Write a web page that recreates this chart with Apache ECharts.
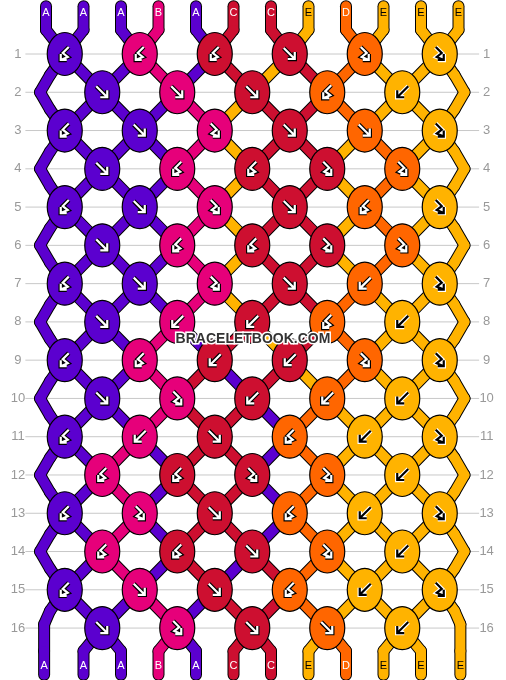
<!DOCTYPE html>
<html><head><meta charset="utf-8">
<script src="https://cdn.jsdelivr.net/npm/echarts@6/dist/echarts.min.js"></script>
<style>html,body{margin:0;padding:0;background:#fff}#c{width:506px;height:680px}</style>
</head><body><div id="c"></div>
<script>
// Strings at top (left to right)
const topStrings = ['A','A','A','B','A','C','C','E','D','E','E','E'];
const colorOf = {A:'#5b00cf', B:'#e6007a', C:'#cd0f30', D:'#ff6600', E:'#ffb300'};
// Knot types per row: F forward, B backward, f forward-backward, b backward-forward
const rowKnots = [
  'bbbFff','FFFbB','bFfFFf','Fbbff','bFfFbf','Fbbff','bFfFBf','FBBbB',
  'bbBBff','FfBBB','bBFbBf','bbffB','bfFbBf','bbFfB','bFFbBf','FfFFB'
];
const rowLabels = ['1','2','3','4','5','6','7','8','9','10','11','12','13','14','15','16'];

// ---- simulate ----
let state = topStrings.slice();
const knots = [];
const pts = [];
const nRows = rowKnots.length;
for (let r = 0; r < nRows; r++) {
  const row = r + 1, odd = (r % 2 === 0), start = odd ? 0 : 1;
  const rp = [];
  if (!odd) {
    if (r === nRows-1) {
      rp[0] = [[0.107,row-0.45],[-0.05,row-0.1]];
      rp[11] = [[10.893,row-0.45],[11.05,row-0.1]];
    } else {
      rp[0] = [[0.107, row-0.45],[-0.16,row],[0.107,row+0.45]];
      rp[11] = [[10.893,row-0.45],[11.16,row],[10.893,row+0.45]];
    }
  }
  const ns = state.slice();
  rowKnots[r].split('').forEach((t, k) => {
    const i = start + 2*k, L = state[i], R = state[i+1];
    const x = i + 0.5;
    rp[i] = [[x,row]]; rp[i+1] = [[x,row]];
    let c;
    if (t === 'F') { c = L; ns[i] = R; ns[i+1] = L; }
    else if (t === 'B') { c = R; ns[i] = R; ns[i+1] = L; }
    else if (t === 'f') { c = L; }
    else { c = R; }
    knots.push([x, row, c, t]);
  });
  pts.push({p: rp, before: state.slice(), after: ns.slice()});
  state = ns;
}
const segs = [];
function addPath(path, letter){ for (let j=0;j<path.length-1;j++) segs.push([path[j][0],path[j][1],path[j+1][0],path[j+1][1],letter]); }
for (let p = 0; p < 12; p++) {
  const first = pts[0].p[p];
  addPath([[p,-0.25],[p,0.37],first[0]], topStrings[p]);
  for (let r = 0; r < pts.length; r++) {
    const cur = pts[r].p[p];
    if (cur.length > 1) addPath(cur, pts[r].before[p]);
    const lastPt = cur[cur.length-1];
    if (r < pts.length-1) {
      addPath([lastPt, pts[r+1].p[p][0]], pts[r].after[p]);
    } else {
      const bx = (p===0) ? -0.05 : (p===11 ? 11.05 : p);
      addPath([lastPt,[bx,16.6],[bx,17.22]], pts[r].after[p]);
    }
  }
}
const xr = [-1.2267, 12.2667], yr = [-0.411, 17.357];
const chart = echarts.init(document.getElementById('c'), null, {renderer:'canvas'});
function segItem(w, useColor){
  return function(params, api){
    const a = api.coord([api.value(0), api.value(1)]), b = api.coord([api.value(2), api.value(3)]);
    const letter = segs[params.dataIndex][4];
    return {type:'line', shape:{x1:a[0],y1:a[1],x2:b[0],y2:b[1]},
      style:{stroke: useColor ? colorOf[letter] : '#000', lineWidth:w, lineCap:'round'}};
  };
}
function arrowPath(t){
  if (t==='F') return 'M-6,-6L5,5M-2,5L5,5L5,-2';
  if (t==='B') return 'M6,-6L-5,5M2,5L-5,5L-5,-2';
  if (t==='f') return 'M-4,-7L2,-1L-3,3L4,6M-2,6L4,6L4,0';
  return 'M4,-7L-2,-1L3,3L-4,6M2,6L-4,6L-4,0';
}
const endLabels = [];
topStrings.forEach((s,p)=>endLabels.push([p,-0.08,s]));
const botStrings = state.slice();
botStrings.forEach((s,p)=>endLabels.push([p===0?-0.05:(p===11?11.05:p),17.0,s]));
const rowLab = [];
rowLabels.forEach((l,i)=>{ rowLab.push([-0.75,i+1,l]); rowLab.push([11.75,i+1,l]); });

chart.setOption({
  animation:false,
  grid:{left:0,right:0,top:0,bottom:0},
  xAxis:{type:'value',min:xr[0],max:xr[1],show:false},
  yAxis:{type:'value',min:yr[0],max:yr[1],inverse:true,show:false},
  series:[
    {type:'custom', z:1, data:rowLab, renderItem:(params,api)=>{
      const c = api.coord([api.value(0), api.value(1)]);
      const isLeft = api.value(0) < 0;
      const children = [{type:'text', x:c[0], y:c[1], style:{text:rowLab[params.dataIndex][2], fill:'#999', font:'13px "Liberation Sans", Arial', align:'center', verticalAlign:'middle'}}];
      if (isLeft) {
        const a = api.coord([-0.55, api.value(1)]), b = api.coord([11.55, api.value(1)]);
        children.push({type:'line', shape:{x1:a[0],y1:a[1],x2:b[0],y2:b[1]}, style:{stroke:'#c8c8c8',lineWidth:1}});
      }
      return {type:'group', children};
    }},
    {type:'custom', z:2, data:segs.map(s=>s.slice(0,4)), renderItem:segItem(12,false)},
    {type:'custom', z:3, data:segs.map(s=>s.slice(0,4)), renderItem:segItem(10,true)},
    {type:'custom', z:4, data:endLabels, renderItem:(params,api)=>{
      const c = api.coord([api.value(0), api.value(1)]);
      const s = endLabels[params.dataIndex][2];
      return {type:'text', x:c[0], y:c[1], style:{text:s, fill: s==='E'?'#000':'#fff', font:'11px "Liberation Sans", Arial', align:'center', verticalAlign:'middle'}};
    }},
    {type:'custom', z:5, data:knots.map(k=>[k[0],k[1]]), renderItem:(params,api)=>{
      const c = api.coord([api.value(0), api.value(1)]);
      const k = knots[params.dataIndex];
      const ac = k[2]==='E' ? '#000' : '#fff';
      return {type:'group', x:c[0], y:c[1], children:[
        {type:'ellipse', shape:{cx:0,cy:0,rx:17.5,ry:21.5}, style:{fill:colorOf[k[2]], stroke:'#000', lineWidth:1.2}},
        {type:'path', shape:{pathData:arrowPath(k[3])}, style:{fill:'none', stroke: k[2]==='E'?'#fff':'#000', lineWidth:4.5}},
        {type:'path', shape:{pathData:arrowPath(k[3])}, style:{fill:'none', stroke:ac, lineWidth:2.2}}
      ]};
    }}
  ],
  graphic:[{type:'text', left:'center', top:331, z:100, style:{text:'BRACELETBOOK.COM', fill:'#333', stroke:'#fff', lineWidth:3, font:'bold 14px "Liberation Sans", Arial'}}]
});
</script></body></html>
